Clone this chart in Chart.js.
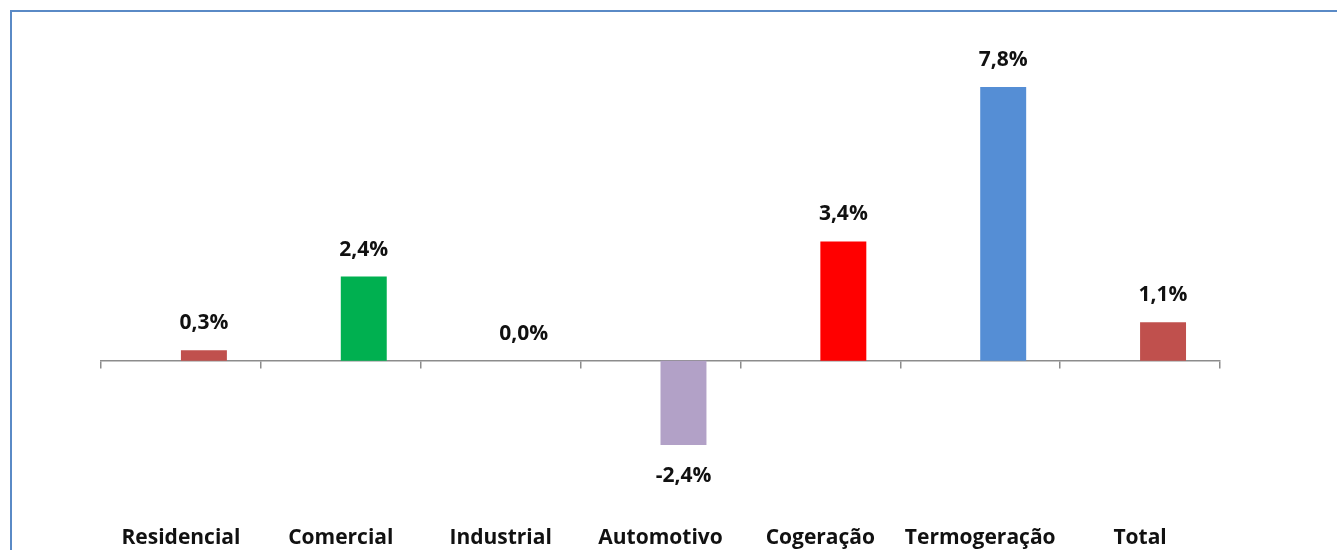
<!DOCTYPE html>
<html>
<head>
<meta charset="utf-8">
<script src="https://cdn.jsdelivr.net/npm/chart.js@4/dist/chart.umd.min.js"></script>
<style>
  html, body { margin: 0; padding: 0; background: #fff; overflow: hidden; }
  #frame { position: absolute; left: 10px; top: 10px; width: 1340px; height: 560px;
           border-left: 2px solid #5A8AC6; border-top: 2px solid #5A8AC6; }
  #wrap { position: absolute; left: 0; top: 0; width: 1337px; height: 550px; }
</style>
</head>
<body>
<div id="frame"></div>
<div id="wrap"><canvas id="c"></canvas></div>
<script>
// categorias e variações (%)
var CATEGORIES = ["Residencial", "Comercial", "Industrial", "Automotivo", "Cogeração", "Termogeração", "Total"];
var VALUES = [0.3, 2.4, 0.0, -2.4, 3.4, 7.8, 1.1];
var EMPTY = [null, null, null, null, null, null, null]; // série vazia à esquerda (como no Excel)
var COLORS = ["#C0504D", "#00B050", "#C0504D", "#B2A1C7", "#FF0000", "#558ED5", "#C0504D"];

var FONT = "'Open Sans', Lato, sans-serif";

function fmt(v) { return v.toFixed(1).replace(".", ",") + "%"; }

// rótulos de valor acima/abaixo das barras
var valueLabels = {
  id: "valueLabels",
  afterDatasetsDraw: function (chart) {
    var ctx = chart.ctx;
    var meta = chart.getDatasetMeta(1);
    ctx.save();
    ctx.font = "bold 21px " + FONT;
    ctx.fillStyle = "#111";
    ctx.textAlign = "center";
    ctx.textBaseline = "middle";
    meta.data.forEach(function (bar, i) {
      var v = VALUES[i];
      var y = v < 0 ? bar.y + 31 : bar.y - 27;
      ctx.fillText(fmt(v), bar.x, y);
    });
    ctx.restore();
  }
};

new Chart(document.getElementById("c"), {
  type: "bar",
  data: {
    labels: CATEGORIES,
    datasets: [
      { data: EMPTY, backgroundColor: "rgba(0,0,0,0)", barPercentage: 1.0, categoryPercentage: 0.575 },
      { data: VALUES, backgroundColor: COLORS, barPercentage: 1.0, categoryPercentage: 0.575 }
    ]
  },
  options: {
    responsive: true,
    maintainAspectRatio: false,
    animation: false,
    events: [],
    layout: { padding: { left: 101, right: 117, top: 45, bottom: -23 } },
    plugins: { legend: { display: false }, tooltip: { enabled: false } },
    scales: {
      y: { display: false, min: -3.85, max: 9 },
      x: {
        position: { y: 0 },
        offset: true,
        grid: { display: true, drawOnChartArea: false, drawTicks: true, tickLength: 7, color: "#8C8C8C", lineWidth: 1.5, offset: true },
        border: { display: true, color: "#8C8C8C", width: 1.5 },
        ticks: { display: false },
        afterFit: function (s) { s.height = 0; }
      },
      x2: {
        position: "bottom",
        offset: true,
        grid: { display: false },
        border: { display: false },
        ticks: { padding: 22, color: "#111", font: { family: FONT, size: 21, weight: "bold" }, maxRotation: 0, autoSkip: false }
      }
    }
  },
  plugins: [valueLabels]
});
</script>
</body>
</html>
